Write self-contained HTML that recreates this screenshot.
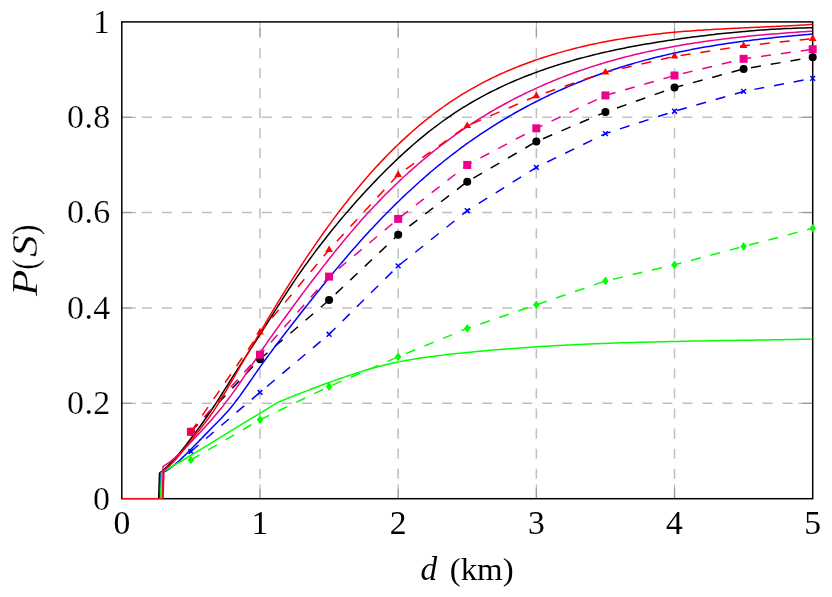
<!DOCTYPE html>
<html><head><meta charset="utf-8"><title>P(S) vs d</title>
<style>html,body{margin:0;padding:0;background:#fff}svg{display:block}</style>
</head><body>
<svg width="832" height="597" viewBox="0 0 832 597">
<rect width="832" height="597" fill="#ffffff"/>
<defs><clipPath id="c"><rect x="121.8" y="21.9" width="690.9" height="476.8"/></clipPath></defs>
<g stroke="#bfbfbf" stroke-width="1.5" stroke-dasharray="10.011 10.011" fill="none">
<path d="M259.98 498.7V21.9"/>
<path d="M398.16 498.7V21.9"/>
<path d="M536.34 498.7V21.9"/>
<path d="M674.52 498.7V21.9"/>
<path d="M121.8 403.34H812.7"/>
<path d="M121.8 307.98H812.7"/>
<path d="M121.8 212.62H812.7"/>
<path d="M121.8 117.26H812.7"/>
</g>
<g stroke="#808080" stroke-width="0.67" fill="none">
<path d="M259.98 498.7v-14.2 M259.98 21.9v14.2"/>
<path d="M398.16 498.7v-14.2 M398.16 21.9v14.2"/>
<path d="M536.34 498.7v-14.2 M536.34 21.9v14.2"/>
<path d="M674.52 498.7v-14.2 M674.52 21.9v14.2"/>
<path d="M121.8 403.34h14.2 M812.7 403.34h-14.2"/>
<path d="M121.8 307.98h14.2 M812.7 307.98h-14.2"/>
<path d="M121.8 212.62h14.2 M812.7 212.62h-14.2"/>
<path d="M121.8 117.26h14.2 M812.7 117.26h-14.2"/>
</g>
<rect x="121.8" y="21.9" width="690.9" height="476.8" fill="none" stroke="#000" stroke-width="1.5"/>
<path d="M121.8 498.7 L158.67 498.7 L159.5 473.1 L162.23 471 L164.96 468.67 L167.69 466.12 L170.43 463.37 L173.16 460.45 L175.89 457.36 L178.63 454.14 L181.36 450.81 L184.09 447.37 L184.31 447.09 L186.83 443.87 L189.56 440.31 L190.89 438.56 L192.29 436.71 L195.03 433.09 L197.76 429.42 L200.49 425.71 L203.22 421.94 L204.29 420.44 L205.03 419.41 L205.96 418.09 L208.69 414.17 L211.42 410.15 L214.16 406.03 L215.76 403.57 L216.89 401.83 L218.11 399.93 L219.62 397.56 L222.36 393.25 L225.09 388.91 L227.82 384.55 L230.56 380.21 L230.82 379.79 L233.29 375.9 L236.02 371.62 L238.75 367.38 L241.49 363.15 L244.22 358.95 L245.19 357.45 L246.95 354.75 L249.69 350.55 L252.42 346.35 L255.15 342.13 L257.89 337.89 L259.43 335.49 L260.62 333.62 L263.35 329.32 L263.57 328.97 L266.09 324.99 L268.82 320.65 L271.55 316.31 L274.28 311.96 L276.29 308.79 L277.02 307.63 L279.75 303.32 L282.48 299.05 L285.22 294.81 L287.95 290.62 L290.68 286.49 L293.42 282.41 L296.15 278.38 L298.88 274.41 L301.62 270.5 L302.26 269.58 L304.35 266.63 L306.08 264.21 L307.08 262.82 L309.81 259.05 L312.55 255.33 L315.28 251.66 L318.01 248.04 L320.75 244.46 L323.48 240.93 L326.21 237.44 L327.18 236.22 L328.95 233.99 L329.07 233.83 L331.68 230.58 L334.41 227.22 L337.15 223.89 L339.88 220.6 L342.61 217.34 L345.34 214.13 L348.08 210.94 L348.77 210.14 L350.81 207.8 L352.84 205.48 L353.54 204.68 L356.28 201.6 L359.01 198.54 L361.74 195.52 L364.48 192.53 L367.21 189.57 L369.94 186.64 L372.68 183.75 L375.41 180.88 L378.14 178.05 L380.87 175.25 L383.61 172.49 L386.34 169.75 L387.11 168.99 L389.07 167.05 L391.81 164.39 L394.54 161.76 L396.5 159.89 L397.27 159.16 L398.16 158.32 L400.01 156.6 L402.74 154.07 L405.47 151.58 L408.21 149.12 L410.94 146.7 L413.67 144.31 L416.4 141.96 L419.14 139.65 L419.99 138.93 L421.87 137.37 L424.6 135.13 L427.34 132.93 L430.07 130.77 L432.8 128.64 L432.98 128.5 L435.54 126.55 L438.27 124.5 L441 122.49 L443.74 120.51 L446.47 118.58 L447.9 117.58 L449.2 116.68 L451.93 114.82 L454.67 112.99 L457.4 111.2 L460.13 109.45 L462.87 107.73 L465.6 106.04 L467.25 105.04 L468.33 104.39 L471.07 102.76 L473.8 101.18 L476.53 99.62 L479.27 98.09 L482 96.6 L484.73 95.13 L487.46 93.69 L490.2 92.28 L492.93 90.9 L495.66 89.55 L498.4 88.22 L501.13 86.93 L503.86 85.65 L506.6 84.4 L509.33 83.18 L512.06 81.98 L514.8 80.8 L517.53 79.65 L519.99 78.63 L520.26 78.52 L522.99 77.41 L525.73 76.32 L528.46 75.25 L531.19 74.2 L533.93 73.17 L536.34 72.28 L536.66 72.17 L539.39 71.17 L542.13 70.2 L544.86 69.25 L547.59 68.31 L550.32 67.39 L553.06 66.48 L555.79 65.6 L558.52 64.73 L561.26 63.87 L563.99 63.04 L566.72 62.21 L569.46 61.41 L572.19 60.62 L574.92 59.84 L577.66 59.08 L580.39 58.33 L583.12 57.6 L585.85 56.88 L588.59 56.18 L591.32 55.48 L594.05 54.81 L596.79 54.14 L599.52 53.49 L602.25 52.85 L604.99 52.22 L605.43 52.12 L607.72 51.61 L610.45 51 L613.19 50.41 L615.92 49.83 L618.65 49.26 L621.38 48.7 L624.12 48.15 L626.85 47.61 L629.58 47.08 L632.32 46.57 L635.05 46.06 L637.78 45.56 L640.52 45.06 L643.25 44.58 L645.98 44.11 L648.72 43.64 L651.45 43.18 L654.18 42.73 L656.91 42.29 L659.65 41.86 L662.38 41.43 L665.11 41.01 L667.85 40.59 L670.58 40.18 L673.31 39.78 L674.52 39.6 L676.05 39.38 L678.78 38.99 L681.51 38.6 L684.25 38.22 L686.98 37.85 L689.71 37.48 L692.44 37.11 L695.18 36.76 L697.91 36.4 L700.64 36.06 L703.38 35.72 L706.11 35.39 L708.84 35.06 L711.58 34.74 L714.31 34.42 L717.04 34.12 L719.78 33.82 L722.51 33.52 L725.24 33.23 L727.97 32.95 L730.71 32.67 L733.44 32.4 L736.17 32.14 L738.91 31.89 L741.64 31.64 L743.61 31.46 L744.37 31.39 L747.11 31.16 L749.84 30.93 L752.57 30.71 L755.31 30.5 L758.04 30.29 L760.77 30.09 L763.5 29.9 L766.24 29.71 L768.97 29.53 L771.7 29.36 L774.44 29.2 L777.17 29.04 L779.9 28.89 L782.64 28.75 L785.37 28.62 L788.1 28.5 L790.84 28.38 L793.57 28.27 L796.3 28.17 L799.03 28.07 L801.77 27.98 L804.5 27.91 L807.23 27.84 L809.97 27.77 L812.7 27.72" fill="none" stroke="#000000" stroke-width="1.5" stroke-linejoin="round" clip-path="url(#c)"/>
<path d="M190.89 431.8 L259.98 359.19 L329.07 300.11 L398.16 234.79 L467.25 181.63 L536.34 141.58 L605.43 112.02 L674.52 87.6 L743.61 68.91 L812.7 57.18" fill="none" stroke="#000000" stroke-width="1.5" stroke-dasharray="10.011 10.011" clip-path="url(#c)"/>
<circle cx="190.89" cy="431.8" r="4" fill="#000000"/>
<circle cx="259.98" cy="359.19" r="4" fill="#000000"/>
<circle cx="329.07" cy="300.11" r="4" fill="#000000"/>
<circle cx="398.16" cy="234.79" r="4" fill="#000000"/>
<circle cx="467.25" cy="181.63" r="4" fill="#000000"/>
<circle cx="536.34" cy="141.58" r="4" fill="#000000"/>
<circle cx="605.43" cy="112.02" r="4" fill="#000000"/>
<circle cx="674.52" cy="87.6" r="4" fill="#000000"/>
<circle cx="743.61" cy="68.91" r="4" fill="#000000"/>
<circle cx="812.7" cy="57.18" r="4" fill="#000000"/>
<path d="M121.8 498.7 L159.8 498.7 L160.63 473.43 L163.36 472.25 L166.09 470.79 L168.81 469.07 L171.54 467.13 L174.27 464.99 L177 462.68 L177.49 462.25 L179.73 460.22 L182.46 457.65 L185.18 454.99 L187.91 452.26 L190.3 449.85 L190.64 449.5 L193.37 446.73 L196.1 443.95 L198.83 441.18 L200.11 439.87 L201.55 438.4 L204.28 435.62 L207.01 432.85 L209.74 430.08 L212.47 427.32 L215.2 424.55 L217.92 421.76 L219.36 420.29 L220.12 419.49 L220.65 418.93 L223.38 416.03 L226.11 413.04 L228.84 409.94 L231.57 406.69 L234.21 403.4 L234.29 403.3 L234.83 402.61 L236.21 400.82 L237.02 399.75 L239.75 396.08 L242.48 392.3 L245.21 388.44 L247.94 384.53 L250 381.53 L250.66 380.58 L253.39 376.61 L256.12 372.65 L258.85 368.73 L259.98 367.12 L261.58 364.86 L264.31 361.05 L267.03 357.29 L269.76 353.59 L272.49 349.93 L275.22 346.3 L277.95 342.71 L280.68 339.14 L283.06 336.05 L283.4 335.6 L286.13 332.07 L288.2 329.4 L288.86 328.54 L291.59 325.03 L294.32 321.52 L297.05 318.02 L299.77 314.53 L302.5 311.05 L304.75 308.19 L305.23 307.58 L307.96 304.12 L310.69 300.68 L313.42 297.24 L316.14 293.83 L318.87 290.42 L321.6 287.04 L324.33 283.67 L326.39 281.13 L327.06 280.32 L329.07 277.86 L329.79 276.98 L332.51 273.67 L335.24 270.38 L337.97 267.11 L340.7 263.86 L340.73 263.82 L343.43 260.64 L346.16 257.43 L348.88 254.26 L351.61 251.11 L354.34 247.99 L357.07 244.89 L359.8 241.82 L362.53 238.78 L365.25 235.77 L365.38 235.63 L367.98 232.79 L370.71 229.84 L373.44 226.91 L376.17 224.02 L378.9 221.15 L381.62 218.31 L384.35 215.5 L387.08 212.72 L389.81 209.96 L392.54 207.23 L394.9 204.9 L395.27 204.54 L397.99 201.87 L398.16 201.7 L400.72 199.22 L403.45 196.61 L406.18 194.02 L408.91 191.47 L411.64 188.94 L414.36 186.44 L417.09 183.96 L419.82 181.52 L422.55 179.1 L425.28 176.71 L428.01 174.35 L430.73 172.02 L433.46 169.72 L436.19 167.44 L436.71 167.01 L438.92 165.19 L439.99 164.32 L441.65 162.97 L444.38 160.78 L445.69 159.73 L447.1 158.62 L449.83 156.48 L452.56 154.37 L455.29 152.28 L458.02 150.23 L460.75 148.2 L463.47 146.19 L466.2 144.21 L467.25 143.46 L468.93 142.26 L471.66 140.33 L474.39 138.43 L477.12 136.55 L479.84 134.7 L482.57 132.87 L485.3 131.07 L488.03 129.29 L490.76 127.54 L493.49 125.8 L496.21 124.09 L498.94 122.41 L501.67 120.74 L504.4 119.1 L507.13 117.49 L509.86 115.89 L510.45 115.55 L512.58 114.32 L515.31 112.76 L518.04 111.23 L519.99 110.15 L520.77 109.72 L523.5 108.23 L526.23 106.77 L528.95 105.32 L531.68 103.89 L534.41 102.48 L536.34 101.5 L537.14 101.09 L539.87 99.73 L542.6 98.38 L545.32 97.05 L548.05 95.74 L550.78 94.44 L553.51 93.17 L556.24 91.92 L558.97 90.68 L561.69 89.46 L564.42 88.26 L567.15 87.08 L569.88 85.92 L572.61 84.77 L575.34 83.64 L578.06 82.53 L580.79 81.44 L583.52 80.36 L586.25 79.3 L588.98 78.25 L591.71 77.23 L594.43 76.22 L597.16 75.22 L599.89 74.24 L602.62 73.28 L605.35 72.33 L605.43 72.3 L608.08 71.4 L610.8 70.48 L613.53 69.58 L616.26 68.69 L618.99 67.82 L621.72 66.97 L624.45 66.12 L627.17 65.3 L629.9 64.48 L632.63 63.68 L635.36 62.9 L638.09 62.13 L640.82 61.37 L643.54 60.63 L646.27 59.89 L649 59.18 L651.73 58.47 L654.46 57.78 L657.19 57.1 L659.91 56.43 L662.64 55.78 L665.37 55.14 L668.1 54.51 L670.83 53.89 L673.56 53.28 L674.52 53.07 L676.28 52.69 L679.01 52.1 L681.74 51.53 L684.47 50.97 L687.2 50.42 L689.93 49.88 L692.65 49.35 L695.38 48.83 L698.11 48.32 L700.84 47.82 L703.57 47.34 L706.3 46.86 L709.02 46.39 L711.75 45.93 L714.48 45.48 L717.21 45.04 L719.94 44.6 L722.67 44.18 L725.39 43.77 L728.12 43.36 L730.85 42.96 L733.58 42.57 L736.31 42.19 L739.04 41.82 L741.76 41.45 L743.61 41.21 L744.49 41.09 L747.22 40.74 L749.95 40.4 L752.68 40.06 L755.41 39.73 L758.13 39.41 L760.86 39.09 L763.59 38.78 L766.32 38.48 L769.05 38.18 L771.78 37.88 L774.5 37.6 L777.23 37.32 L779.96 37.04 L782.69 36.77 L785.42 36.51 L788.15 36.25 L790.87 35.99 L793.6 35.74 L796.33 35.49 L799.06 35.25 L801.79 35.01 L804.52 34.78 L807.24 34.55 L809.97 34.32 L812.7 34.1" fill="none" stroke="#0000ff" stroke-width="1.5" stroke-linejoin="round" clip-path="url(#c)"/>
<path d="M190.89 451.5 L259.98 392.37 L329.07 334.3 L398.16 265.93 L467.25 210.71 L536.34 167.32 L605.43 133.61 L674.52 111.2 L743.61 91.42 L812.7 78.31" fill="none" stroke="#0000ff" stroke-width="1.5" stroke-dasharray="10.011 10.011" clip-path="url(#c)"/>
<path d="M188.49 449.1L193.29 453.9M188.49 453.9L193.29 449.1" stroke="#0000ff" stroke-width="1.5" fill="none"/>
<path d="M257.58 389.97L262.38 394.77M257.58 394.77L262.38 389.97" stroke="#0000ff" stroke-width="1.5" fill="none"/>
<path d="M326.67 331.9L331.47 336.7M326.67 336.7L331.47 331.9" stroke="#0000ff" stroke-width="1.5" fill="none"/>
<path d="M395.76 263.53L400.56 268.33M395.76 268.33L400.56 263.53" stroke="#0000ff" stroke-width="1.5" fill="none"/>
<path d="M464.85 208.31L469.65 213.11M464.85 213.11L469.65 208.31" stroke="#0000ff" stroke-width="1.5" fill="none"/>
<path d="M533.94 164.92L538.74 169.72M533.94 169.72L538.74 164.92" stroke="#0000ff" stroke-width="1.5" fill="none"/>
<path d="M603.03 131.21L607.83 136.01M603.03 136.01L607.83 131.21" stroke="#0000ff" stroke-width="1.5" fill="none"/>
<path d="M672.12 108.8L676.92 113.6M672.12 113.6L676.92 108.8" stroke="#0000ff" stroke-width="1.5" fill="none"/>
<path d="M741.21 89.02L746.01 93.82M741.21 93.82L746.01 89.02" stroke="#0000ff" stroke-width="1.5" fill="none"/>
<path d="M810.3 75.91L815.1 80.71M810.3 80.71L815.1 75.91" stroke="#0000ff" stroke-width="1.5" fill="none"/>
<path d="M121.8 498.7 L160.57 498.7 L161.4 472.71 L171.98 466.52 L182.56 460.26 L193.14 453.94 L203.72 447.53 L214.29 441.07 L224.87 434.6 L235.45 428.15 L246.03 421.71 L256.61 415.27 L267.19 408.83 L277.76 402.39 L281.13 401 L284.49 399.62 L287.86 398.26 L291.22 396.9 L294.59 395.56 L297.95 394.24 L301.31 392.92 L304.68 391.62 L308.04 390.33 L311.41 389.05 L314.77 387.78 L318.14 386.52 L321.5 385.27 L324.87 384.04 L328.23 382.81 L331.59 381.59 L334.96 380.39 L338.32 379.2 L341.69 378.02 L345.05 376.86 L348.42 375.72 L351.78 374.6 L355.14 373.5 L358.51 372.42 L361.87 371.37 L365.24 370.34 L368.6 369.34 L371.97 368.38 L375.33 367.44 L378.7 366.53 L382.06 365.66 L385.42 364.83 L388.79 364.04 L392.15 363.28 L395.52 362.55 L398.88 361.86 L402.25 361.19 L405.61 360.56 L408.97 359.95 L412.34 359.38 L415.7 358.82 L419.07 358.29 L422.43 357.79 L425.8 357.3 L429.16 356.83 L432.53 356.39 L435.89 355.95 L439.25 355.54 L442.62 355.13 L445.98 354.74 L449.35 354.36 L452.71 353.98 L456.08 353.62 L459.44 353.26 L462.8 352.91 L466.17 352.56 L469.53 352.23 L472.9 351.9 L476.26 351.57 L479.63 351.25 L482.99 350.94 L486.36 350.64 L489.72 350.34 L493.08 350.05 L496.45 349.76 L499.81 349.48 L503.18 349.21 L506.54 348.94 L509.91 348.68 L513.27 348.43 L516.63 348.18 L520 347.93 L523.36 347.69 L526.73 347.46 L530.09 347.23 L533.46 347.01 L536.82 346.79 L540.19 346.58 L543.55 346.37 L546.91 346.17 L550.28 345.98 L553.64 345.79 L557.01 345.6 L560.37 345.42 L563.74 345.24 L567.1 345.07 L570.46 344.9 L573.83 344.73 L577.19 344.57 L580.56 344.42 L583.92 344.27 L587.29 344.12 L590.65 343.98 L594.02 343.84 L597.38 343.7 L600.74 343.57 L604.11 343.44 L607.47 343.32 L610.84 343.2 L614.2 343.08 L617.57 342.97 L620.93 342.85 L624.29 342.75 L627.66 342.64 L631.02 342.54 L634.39 342.44 L637.75 342.35 L641.12 342.25 L644.48 342.16 L647.85 342.07 L651.21 341.99 L654.57 341.9 L657.94 341.82 L661.3 341.74 L664.67 341.67 L668.03 341.59 L671.4 341.52 L674.76 341.45 L678.12 341.38 L681.49 341.31 L684.85 341.25 L688.22 341.18 L691.58 341.12 L694.95 341.06 L698.31 341 L701.68 340.94 L705.04 340.88 L708.4 340.82 L711.77 340.77 L715.13 340.71 L718.5 340.66 L721.86 340.61 L725.23 340.55 L728.59 340.5 L731.95 340.45 L735.32 340.4 L738.68 340.34 L742.05 340.29 L745.41 340.24 L748.78 340.19 L752.14 340.14 L755.51 340.09 L758.87 340.04 L762.23 339.99 L765.6 339.93 L768.96 339.88 L772.33 339.83 L775.69 339.77 L779.06 339.72 L782.42 339.66 L785.78 339.61 L789.15 339.55 L792.51 339.49 L795.88 339.43 L799.24 339.37 L802.61 339.31 L805.97 339.24 L809.34 339.18 L812.7 339.11" fill="none" stroke="#00ff00" stroke-width="1.5" stroke-linejoin="round" clip-path="url(#c)"/>
<path d="M190.89 459.94 L259.98 419.79 L329.07 386.51 L398.16 356.8 L467.25 328.43 L536.34 304.83 L605.43 280.95 L674.52 264.78 L743.61 246.43 L812.7 228.35" fill="none" stroke="#00ff00" stroke-width="1.5" stroke-dasharray="10.011 10.011" clip-path="url(#c)"/>
<path d="M190.89 455.54L194.09 459.94L190.89 464.34L187.69 459.94Z" fill="#00ff00"/>
<path d="M259.98 415.39L263.18 419.79L259.98 424.19L256.78 419.79Z" fill="#00ff00"/>
<path d="M329.07 382.11L332.27 386.51L329.07 390.91L325.87 386.51Z" fill="#00ff00"/>
<path d="M398.16 352.4L401.36 356.8L398.16 361.2L394.96 356.8Z" fill="#00ff00"/>
<path d="M467.25 324.03L470.45 328.43L467.25 332.83L464.05 328.43Z" fill="#00ff00"/>
<path d="M536.34 300.43L539.54 304.83L536.34 309.23L533.14 304.83Z" fill="#00ff00"/>
<path d="M605.43 276.55L608.63 280.95L605.43 285.35L602.23 280.95Z" fill="#00ff00"/>
<path d="M674.52 260.38L677.72 264.78L674.52 269.18L671.32 264.78Z" fill="#00ff00"/>
<path d="M743.61 242.03L746.81 246.43L743.61 250.83L740.41 246.43Z" fill="#00ff00"/>
<path d="M812.7 223.95L815.9 228.35L812.7 232.75L809.5 228.35Z" fill="#00ff00"/>
<path d="M121.8 498.7 L162.27 498.7 L163.1 466.28 L165.82 464.7 L168.54 462.88 L170.02 461.8 L171.26 460.86 L173.97 458.64 L176.69 456.26 L177.9 455.16 L179.01 454.13 L179.41 453.75 L182.13 451.12 L184.85 448.4 L187.56 445.62 L190.28 442.8 L190.89 442.17 L193 439.96 L195.72 437.1 L198.44 434.22 L201.15 431.31 L203.87 428.36 L206.59 425.37 L209.31 422.32 L211.06 420.33 L211.4 419.95 L212.03 419.22 L214.74 416.05 L217.46 412.81 L220.18 409.5 L222.9 406.1 L225.62 402.62 L225.81 402.37 L227.15 400.62 L228.33 399.06 L231.05 395.4 L233.77 391.64 L236.49 387.8 L239.21 383.87 L241.88 379.96 L241.92 379.89 L244.64 375.86 L247.36 371.79 L250.08 367.7 L252.8 363.61 L255.51 359.53 L256.15 358.58 L258.23 355.48 L259.98 352.89 L260.95 351.46 L263.67 347.49 L266.39 343.56 L269.1 339.67 L271.82 335.81 L272.14 335.36 L274.54 331.99 L276.63 329.07 L277.26 328.2 L279.98 324.43 L282.69 320.68 L285.41 316.94 L288.13 313.22 L290.85 309.51 L292.18 307.7 L293.57 305.81 L296.28 302.13 L299 298.45 L301.72 294.79 L304.44 291.15 L307.16 287.52 L309.87 283.91 L312.59 280.32 L315.31 276.75 L318.03 273.2 L320.75 269.67 L320.86 269.52 L323.46 266.16 L324.65 264.64 L326.18 262.68 L328.9 259.22 L329.07 259.01 L331.62 255.79 L334.33 252.39 L337.05 249.02 L339.77 245.67 L342.49 242.36 L345.21 239.07 L345.79 238.37 L347.92 235.82 L350.64 232.61 L353.36 229.43 L356.08 226.28 L358.8 223.17 L361.51 220.1 L364.23 217.07 L366.95 214.07 L369.67 211.11 L369.97 210.78 L372.39 208.18 L375.1 205.3 L376.42 203.91 L377.82 202.44 L380.54 199.62 L383.26 196.84 L385.98 194.09 L388.69 191.38 L391.41 188.7 L394.13 186.05 L396.85 183.44 L398.16 182.19 L399.57 180.86 L402.28 178.31 L405 175.8 L407.72 173.32 L410.44 170.87 L413.16 168.46 L414.11 167.62 L415.87 166.07 L418.59 163.72 L421.31 161.4 L423.59 159.48 L424.03 159.11 L426.75 156.85 L429.46 154.62 L432.18 152.42 L434.9 150.25 L437.62 148.12 L439.99 146.28 L440.34 146.01 L443.05 143.93 L445.77 141.88 L448.49 139.85 L451.21 137.86 L453.93 135.89 L456.64 133.95 L459.36 132.04 L462.08 130.16 L464.8 128.3 L467.25 126.65 L467.52 126.47 L470.23 124.67 L472.95 122.89 L475.67 121.14 L478.39 119.41 L481.11 117.71 L483.42 116.29 L483.82 116.04 L486.54 114.39 L489.26 112.76 L491.98 111.16 L494.7 109.58 L497.41 108.02 L500.13 106.49 L502.85 104.99 L505.57 103.5 L508.29 102.04 L511 100.6 L513.72 99.18 L516.44 97.78 L519.16 96.4 L519.99 95.99 L521.88 95.05 L524.59 93.72 L527.31 92.4 L530.03 91.11 L532.75 89.84 L535.47 88.59 L536.34 88.19 L538.18 87.35 L540.9 86.14 L543.62 84.94 L546.34 83.77 L549.06 82.61 L551.77 81.47 L554.49 80.35 L557.21 79.25 L559.93 78.16 L562.65 77.1 L565.36 76.05 L568.08 75.02 L570.8 74 L573.52 73 L576.24 72.02 L578.95 71.06 L581.67 70.11 L584.39 69.18 L587.11 68.27 L589.83 67.37 L592.54 66.49 L595.26 65.62 L597.98 64.77 L600.7 63.93 L603.42 63.11 L605.43 62.51 L606.13 62.3 L608.85 61.51 L611.57 60.73 L614.29 59.97 L617.01 59.22 L619.72 58.48 L622.44 57.76 L625.16 57.05 L627.88 56.36 L630.6 55.68 L633.31 55.01 L636.03 54.35 L638.75 53.71 L641.47 53.08 L644.19 52.46 L646.9 51.86 L649.62 51.26 L652.34 50.68 L655.06 50.11 L657.77 49.55 L660.49 49 L663.21 48.46 L665.93 47.94 L668.65 47.42 L671.36 46.92 L674.08 46.42 L674.52 46.34 L676.8 45.94 L679.52 45.46 L682.24 45 L684.95 44.54 L687.67 44.1 L690.39 43.66 L693.11 43.23 L695.83 42.81 L698.54 42.4 L701.26 42 L703.98 41.61 L706.7 41.22 L709.42 40.85 L712.13 40.48 L714.85 40.12 L717.57 39.77 L720.29 39.42 L723.01 39.09 L725.72 38.76 L728.44 38.43 L731.16 38.12 L733.88 37.81 L736.6 37.5 L739.31 37.21 L742.03 36.92 L743.61 36.75 L744.75 36.64 L747.47 36.36 L750.19 36.09 L752.9 35.82 L755.62 35.56 L758.34 35.3 L761.06 35.05 L763.78 34.81 L766.49 34.57 L769.21 34.33 L771.93 34.1 L774.65 33.88 L777.37 33.66 L780.08 33.44 L782.8 33.22 L785.52 33.02 L788.24 32.81 L790.96 32.61 L793.67 32.41 L796.39 32.21 L799.11 32.02 L801.83 31.83 L804.55 31.64 L807.26 31.46 L809.98 31.27 L812.7 31.09" fill="none" stroke="#ec008c" stroke-width="1.5" stroke-linejoin="round" clip-path="url(#c)"/>
<path d="M190.89 431.8 L259.98 354.71 L329.07 276.61 L398.16 218.91 L467.25 164.94 L536.34 128.32 L605.43 95.42 L674.52 75.49 L743.61 58.8 L812.7 49.22" fill="none" stroke="#ec008c" stroke-width="1.5" stroke-dasharray="10.011 10.011" clip-path="url(#c)"/>
<rect x="186.89" y="427.8" width="8" height="8" fill="#ec008c"/>
<rect x="255.98" y="350.71" width="8" height="8" fill="#ec008c"/>
<rect x="325.07" y="272.61" width="8" height="8" fill="#ec008c"/>
<rect x="394.16" y="214.91" width="8" height="8" fill="#ec008c"/>
<rect x="463.25" y="160.94" width="8" height="8" fill="#ec008c"/>
<rect x="532.34" y="124.32" width="8" height="8" fill="#ec008c"/>
<rect x="601.43" y="91.42" width="8" height="8" fill="#ec008c"/>
<rect x="670.52" y="71.49" width="8" height="8" fill="#ec008c"/>
<rect x="739.61" y="54.8" width="8" height="8" fill="#ec008c"/>
<rect x="808.7" y="45.22" width="8" height="8" fill="#ec008c"/>
<path d="M121.8 498.7 L163.07 498.7 L163.9 470.09 L166.62 468.18 L169.33 465.91 L170 465.3 L172.05 463.32 L174.76 460.46 L177.48 457.38 L179.84 454.57 L180.19 454.13 L182.91 450.76 L185.09 447.99 L185.62 447.31 L188.34 443.84 L190.89 440.59 L191.05 440.38 L193.76 436.99 L194.9 435.58 L196.48 433.62 L199.19 430.25 L201.91 426.84 L204.62 423.36 L206.92 420.33 L207.34 419.77 L208.04 418.83 L210.05 416.05 L212.77 412.14 L214.3 409.86 L215.48 408.06 L218.11 403.95 L218.2 403.82 L220.35 400.35 L220.91 399.44 L223.63 394.95 L226.34 390.37 L229.05 385.73 L231.77 381.05 L232.83 379.22 L233.53 378.01 L234.48 376.36 L237.2 371.66 L239.91 366.96 L242.63 362.26 L245.34 357.56 L246.71 355.19 L248.06 352.87 L250.77 348.19 L253.49 343.52 L256.2 338.86 L258.53 334.88 L258.92 334.22 L259.98 332.41 L261.63 329.61 L262.08 328.84 L264.34 325.01 L267.06 320.44 L269.77 315.89 L272.49 311.37 L274.07 308.74 L275.2 306.88 L277.92 302.42 L280.63 297.99 L283.35 293.59 L286.06 289.22 L288.78 284.89 L291.49 280.6 L294.21 276.34 L296.92 272.12 L298.2 270.15 L299.63 267.94 L301.57 264.98 L302.35 263.8 L305.06 259.69 L307.78 255.62 L310.49 251.6 L313.21 247.61 L315.92 243.66 L318.64 239.75 L320.64 236.89 L321.35 235.88 L324.07 232.05 L326.78 228.27 L329.07 225.11 L329.5 224.52 L332.21 220.82 L334.93 217.16 L337.64 213.54 L340.35 209.97 L340.73 209.47 L343.07 206.44 L344.27 204.89 L345.78 202.95 L348.5 199.51 L351.21 196.11 L353.93 192.76 L356.64 189.45 L359.36 186.19 L362.07 182.97 L364.79 179.81 L367.5 176.68 L370.22 173.6 L372.9 170.6 L372.93 170.57 L375.64 167.58 L378.36 164.63 L381.07 161.73 L382.82 159.89 L383.79 158.88 L386.5 156.06 L389.22 153.29 L391.93 150.57 L394.65 147.89 L397.36 145.25 L398.16 144.48 L400.08 142.65 L402.79 140.09 L405.51 137.58 L408.22 135.11 L410.93 132.69 L413.65 130.3 L414.74 129.35 L416.36 127.96 L419.08 125.65 L419.99 124.89 L421.79 123.39 L424.51 121.17 L427.22 118.99 L429.94 116.85 L431.32 115.77 L432.65 114.75 L435.37 112.69 L438.08 110.67 L440.8 108.69 L443.51 106.75 L446.22 104.85 L448.94 102.98 L451.65 101.16 L454.37 99.37 L457.08 97.62 L459.8 95.9 L462.51 94.22 L465.23 92.57 L467.25 91.36 L467.94 90.96 L470.66 89.38 L473.37 87.83 L476.09 86.32 L478.8 84.83 L481.52 83.38 L484.23 81.96 L486.94 80.57 L489.66 79.21 L492.37 77.88 L495.09 76.58 L497.8 75.3 L500.52 74.05 L503.23 72.83 L505.95 71.64 L508.66 70.47 L511.05 69.46 L511.38 69.32 L514.09 68.2 L516.81 67.1 L519.52 66.03 L522.23 64.98 L524.95 63.95 L527.66 62.94 L530.38 61.96 L533.09 60.99 L535.81 60.04 L536.34 59.86 L538.52 59.12 L541.24 58.21 L543.95 57.32 L546.67 56.45 L549.38 55.6 L552.1 54.76 L554.81 53.95 L557.52 53.15 L560.24 52.37 L562.95 51.6 L565.67 50.85 L568.38 50.12 L571.1 49.41 L573.81 48.71 L576.53 48.03 L579.24 47.36 L581.96 46.71 L584.67 46.08 L587.39 45.46 L590.1 44.85 L592.81 44.26 L595.53 43.68 L598.24 43.12 L600.96 42.58 L603.67 42.04 L605.43 41.7 L606.39 41.52 L609.1 41.02 L611.82 40.52 L614.53 40.04 L617.25 39.57 L619.96 39.12 L622.68 38.68 L625.39 38.24 L628.11 37.83 L630.82 37.42 L633.53 37.02 L636.25 36.64 L638.96 36.26 L641.68 35.9 L644.39 35.55 L647.11 35.2 L649.82 34.87 L652.54 34.55 L655.25 34.24 L657.97 33.93 L660.68 33.64 L663.4 33.35 L666.11 33.08 L668.82 32.81 L671.54 32.55 L674.25 32.3 L674.52 32.27 L676.97 32.06 L679.68 31.82 L682.4 31.59 L685.11 31.37 L687.83 31.15 L690.54 30.95 L693.26 30.74 L695.97 30.55 L698.69 30.36 L701.4 30.17 L704.11 30 L706.83 29.82 L709.54 29.65 L712.26 29.49 L714.97 29.33 L717.69 29.18 L720.4 29.02 L723.12 28.88 L725.83 28.73 L728.55 28.59 L731.26 28.45 L733.98 28.32 L736.69 28.18 L739.4 28.05 L742.12 27.92 L743.61 27.85 L744.83 27.8 L747.55 27.67 L750.26 27.55 L752.98 27.42 L755.69 27.3 L758.41 27.18 L761.12 27.06 L763.84 26.94 L766.55 26.81 L769.27 26.69 L771.98 26.57 L774.7 26.44 L777.41 26.32 L780.12 26.19 L782.84 26.06 L785.55 25.93 L788.27 25.8 L790.98 25.66 L793.7 25.52 L796.41 25.38 L799.13 25.24 L801.84 25.09 L804.56 24.94 L807.27 24.78 L809.99 24.62 L812.7 24.46" fill="none" stroke="#ff0000" stroke-width="1.5" stroke-linejoin="round" clip-path="url(#c)"/>
<path d="M190.89 431.8 L259.98 332.3 L329.07 249.81 L398.16 174.71 L467.25 125.84 L536.34 95.99 L605.43 72.3 L674.52 56.42 L743.61 45.79 L812.7 38.73" fill="none" stroke="#ff0000" stroke-width="1.5" stroke-dasharray="10.011 10.011" clip-path="url(#c)"/>
<path d="M190.89 427.4L187.08 434L194.7 434Z" fill="#ff0000"/>
<path d="M259.98 327.9L256.17 334.5L263.79 334.5Z" fill="#ff0000"/>
<path d="M329.07 245.41L325.26 252.01L332.88 252.01Z" fill="#ff0000"/>
<path d="M398.16 170.31L394.35 176.91L401.97 176.91Z" fill="#ff0000"/>
<path d="M467.25 121.44L463.44 128.04L471.06 128.04Z" fill="#ff0000"/>
<path d="M536.34 91.59L532.53 98.19L540.15 98.19Z" fill="#ff0000"/>
<path d="M605.43 67.9L601.62 74.5L609.24 74.5Z" fill="#ff0000"/>
<path d="M674.52 52.02L670.71 58.62L678.33 58.62Z" fill="#ff0000"/>
<path d="M743.61 41.39L739.8 47.99L747.42 47.99Z" fill="#ff0000"/>
<path d="M812.7 34.33L808.89 40.93L816.51 40.93Z" fill="#ff0000"/>
<g font-family="'Liberation Serif', serif" fill="#000" opacity="0.999">
<text x="121.8" y="533.9" font-size="33.6" text-anchor="middle">0</text>
<text x="259.98" y="533.9" font-size="33.6" text-anchor="middle">1</text>
<text x="398.16" y="533.9" font-size="33.6" text-anchor="middle">2</text>
<text x="536.34" y="533.9" font-size="33.6" text-anchor="middle">3</text>
<text x="674.52" y="533.9" font-size="33.6" text-anchor="middle">4</text>
<text x="812.7" y="533.9" font-size="33.6" text-anchor="middle">5</text>
<text x="109.9" y="509.5" font-size="34" text-anchor="end" stroke="#fff" stroke-width="0.22">0</text>
<text x="110.7" y="414.14" font-size="34" text-anchor="end" letter-spacing="0.4" stroke="#fff" stroke-width="0.22">0.2</text>
<text x="110.7" y="318.78" font-size="34" text-anchor="end" letter-spacing="0.4" stroke="#fff" stroke-width="0.22">0.4</text>
<text x="110.7" y="223.42" font-size="34" text-anchor="end" letter-spacing="0.4" stroke="#fff" stroke-width="0.22">0.6</text>
<text x="110.7" y="128.06" font-size="34" text-anchor="end" letter-spacing="0.4" stroke="#fff" stroke-width="0.22">0.8</text>
<text x="109.9" y="32.7" font-size="34" text-anchor="end" stroke="#fff" stroke-width="0.22">1</text>
<text x="420.6" y="579.8" font-size="33.4" font-style="italic">d</text>
<text transform="translate(449.7 579.5) scale(1.055 1)" font-size="31.2">(km)</text>
<text transform="translate(36.6 296) rotate(-90) scale(1.224 1)" font-size="35.3" font-style="italic" stroke="#fff" stroke-width="0.22">P</text>
<text transform="translate(36.6 269.7) rotate(-90) scale(0.865 1)" font-size="36" stroke="#fff" stroke-width="0.22">(</text>
<text transform="translate(36.6 256.9) rotate(-90) scale(1.218 1)" font-size="36" font-style="italic" stroke="#fff" stroke-width="0.22">S</text>
<text transform="translate(36.6 235.1) rotate(-90) scale(0.865 1)" font-size="36" stroke="#fff" stroke-width="0.22">)</text>
</g>
</svg>
</body></html>
